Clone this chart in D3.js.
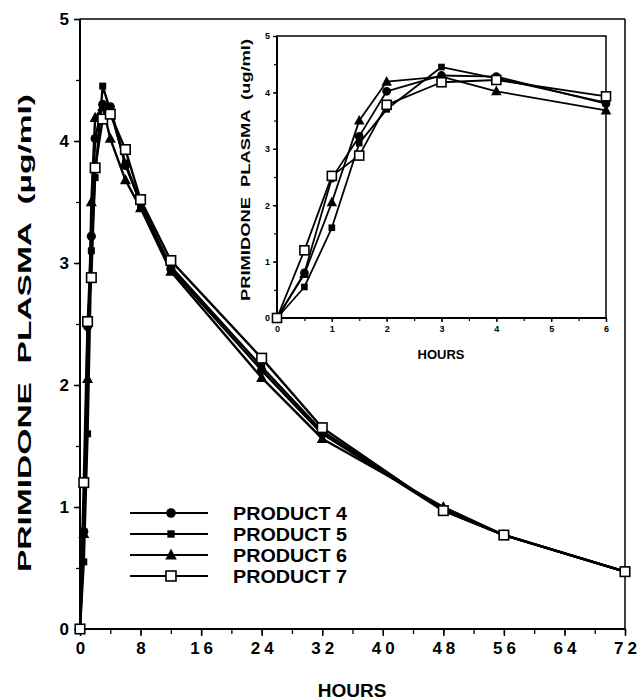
<!DOCTYPE html>
<html>
<head>
<meta charset="utf-8">
<script src="https://cdn.jsdelivr.net/npm/d3@7"></script>
<style>
  html, body { margin: 0; padding: 0; background: #fff; }
  svg { display: block; }
  text { font-family: "Liberation Sans", Arial, Helvetica, sans-serif; font-weight: bold; fill: #000; }
</style>
</head>
<body>
<svg id="chart" width="643" height="700"></svg>
<script>
// ---------- DATA ----------
const times = [0, 0.5, 1, 1.5, 2, 3, 4, 6, 8, 12, 24, 32, 48, 56, 72];
const product4 = [0, 0.80, 2.48, 3.22, 4.02, 4.30, 4.28, 3.80, 3.50, 2.95, 2.12, 1.60, 0.97, 0.77, 0.47];
const product5 = [0, 0.55, 1.60, 3.10, 3.70, 4.45, 4.25, 3.82, 3.48, 2.97, 2.15, 1.62, 0.98, 0.77, 0.47];
const product6 = [0, 0.78, 2.05, 3.50, 4.19, 4.28, 4.02, 3.68, 3.45, 2.93, 2.06, 1.56, 1.00, 0.77, 0.47];
const product7 = [0, 1.20, 2.52, 2.88, 3.78, 4.18, 4.22, 3.93, 3.52, 3.02, 2.22, 1.65, 0.97, 0.77, 0.47];
const seriesNames = ["PRODUCT 4", "PRODUCT 5", "PRODUCT 6", "PRODUCT 7"];
const seriesMarkers = ["circle", "filledSquare", "triangle", "openSquare"];
const mainXTicks = [0, 8, 16, 24, 32, 40, 48, 56, 64, 72];
const mainYTicks = [0, 1, 2, 3, 4, 5];
const insetXTicks = [0, 1, 2, 3, 4, 5, 6];
const insetYTicks = [0, 1, 2, 3, 4, 5];
const insetMaxTime = 6;
const yLabelMain = "PRIMIDONE  PLASMA  (\u00b5g/ml)";
const yLabelInset = "PRIMIDONE  PLASMA  (ug/ml)";
const xLabel = "HOURS";

const allSeries = [product4, product5, product6, product7].map((vals, i) => ({
  name: seriesNames[i],
  marker: seriesMarkers[i],
  points: times.map((t, j) => ({ t, v: vals[j] }))
}));

const svg = d3.select("#chart");

function drawMarker(g, type, x, y, s) {
  if (type === "circle") {
    g.append("circle").attr("cx", x).attr("cy", y).attr("r", 4.6 * s).attr("fill", "#000");
  } else if (type === "filledSquare") {
    const w = 7 * s;
    g.append("rect").attr("x", x - w / 2).attr("y", y - w / 2).attr("width", w).attr("height", w).attr("fill", "#000");
  } else if (type === "triangle") {
    const h = 10 * s;
    g.append("path")
      .attr("d", `M${x},${y - h * 0.6}L${x + h * 0.55},${y + h * 0.42}L${x - h * 0.55},${y + h * 0.42}Z`)
      .attr("fill", "#000");
  } else {
    const w = 9.5 * s;
    g.append("rect").attr("x", x - w / 2).attr("y", y - w / 2).attr("width", w).attr("height", w)
      .attr("fill", "#fff").attr("stroke", "#000").attr("stroke-width", 1.6);
  }
}

function drawPanel(opts) {
  const { x, y, data, lineWidth, markerScale, g } = opts;
  const line = d3.line().x(d => x(d.t)).y(d => y(d.v));
  data.forEach(s => {
    g.append("path").datum(s.points).attr("d", line)
      .attr("fill", "none").attr("stroke", "#000").attr("stroke-width", lineWidth)
      .attr("stroke-linejoin", "round");
  });
  data.forEach(s => {
    s.points.forEach(p => drawMarker(g, s.marker, x(p.t), y(p.v), markerScale));
  });
}

// ---------- MAIN PANEL ----------
const mx = d3.scaleLinear().domain([0, 72]).range([80, 625]);
const my = d3.scaleLinear().domain([0, 5]).range([629, 19]);

const main = svg.append("g");
// frame top & right
main.append("line").attr("x1", mx(0)).attr("x2", mx(72)).attr("y1", my(5)).attr("y2", my(5))
  .attr("stroke", "#000").attr("stroke-width", 1.5);
main.append("line").attr("x1", mx(72)).attr("x2", mx(72)).attr("y1", my(5)).attr("y2", my(0))
  .attr("stroke", "#000").attr("stroke-width", 1.5);

// minor ticks
const mxAxisMinor = d3.axisBottom(mx).tickValues(d3.range(0, 73, 4)).tickSize(5).tickFormat("");
main.append("g").attr("transform", `translate(0,${my(0)})`).call(mxAxisMinor)
  .call(g => g.select(".domain").remove())
  .call(g => g.selectAll("line").attr("stroke-width", 1.3));
const myAxisMinor = d3.axisLeft(my).tickValues(d3.range(0, 5.01, 0.5)).tickSize(4).tickFormat("");
main.append("g").attr("transform", `translate(${mx(0)},0)`).call(myAxisMinor)
  .call(g => g.select(".domain").remove())
  .call(g => g.selectAll("line").attr("stroke-width", 1.3));

const mxAxis = d3.axisBottom(mx).tickValues(mainXTicks).tickSize(7).tickPadding(6).tickFormat(d3.format("d"));
main.append("g").attr("transform", `translate(0,${my(0)})`).call(mxAxis)
  .call(g => g.select(".domain").attr("stroke-width", 2).attr("d", `M${mx(0)},0H${mx(72)}`))
  .call(g => g.selectAll("line").attr("stroke-width", 1.5))
  .call(g => g.selectAll("text").attr("font-size", 17).attr("font-family", "Liberation Sans, Arial, sans-serif")
    .attr("font-weight", "bold").attr("letter-spacing", "4px").attr("dx", "2px"));

const myAxis = d3.axisLeft(my).tickValues(mainYTicks).tickSize(6).tickPadding(5).tickFormat(d3.format("d"));
main.append("g").attr("transform", `translate(${mx(0)},0)`).call(myAxis)
  .call(g => g.select(".domain").attr("stroke-width", 2).attr("d", `M0,${my(0)}V${my(5)}`))
  .call(g => g.selectAll("line").attr("stroke-width", 1.5))
  .call(g => g.selectAll("text").attr("font-size", 17).attr("font-family", "Liberation Sans, Arial, sans-serif")
    .attr("font-weight", "bold"));

drawPanel({ x: mx, y: my, data: allSeries, lineWidth: 2.4, markerScale: 1, g: main.append("g") });

// axis labels
svg.append("text").attr("x", 352).attr("y", 697).attr("text-anchor", "middle")
  .attr("font-size", 19).text(xLabel);
svg.append("text").attr("transform", "translate(31,333) rotate(-90)").attr("text-anchor", "middle")
  .attr("font-size", 19).attr("textLength", 478).attr("lengthAdjust", "spacingAndGlyphs")
  .style("white-space", "pre").text(yLabelMain);

// legend
const legend = svg.append("g");
const legendRows = [513, 534, 555, 576];
allSeries.forEach((s, i) => {
  const yy = legendRows[i];
  legend.append("line").attr("x1", 130).attr("x2", 208).attr("y1", yy).attr("y2", yy)
    .attr("stroke", "#000").attr("stroke-width", 1.8);
  drawMarker(legend, s.marker, 171, yy, 1.05);
  legend.append("text").attr("x", 233).attr("y", yy + 6.5).attr("font-size", 17.5)
    .attr("textLength", 114).attr("lengthAdjust", "spacingAndGlyphs").text(s.name);
});

// ---------- INSET ----------
const ix = d3.scaleLinear().domain([0, 6]).range([277, 606]);
const iy = d3.scaleLinear().domain([0, 5]).range([318, 36]);
const inset = svg.append("g");
inset.append("rect").attr("x", ix(0)).attr("y", iy(5)).attr("width", ix(6) - ix(0)).attr("height", iy(0) - iy(5))
  .attr("fill", "#fff").attr("stroke", "#000").attr("stroke-width", 1.5);

const ixAxisMinor = d3.axisBottom(ix).tickValues(d3.range(0, 6.01, 0.5)).tickSize(3).tickFormat("");
inset.append("g").attr("transform", `translate(0,${iy(0)})`).call(ixAxisMinor)
  .call(g => g.select(".domain").remove()).call(g => g.selectAll("line").attr("stroke-width", 1.2));
const iyAxisMinor = d3.axisLeft(iy).tickValues(d3.range(0, 5.01, 0.5)).tickSize(3).tickFormat("");
inset.append("g").attr("transform", `translate(${ix(0)},0)`).call(iyAxisMinor)
  .call(g => g.select(".domain").remove()).call(g => g.selectAll("line").attr("stroke-width", 1.2));

const ixAxis = d3.axisBottom(ix).tickValues(insetXTicks).tickSize(4).tickPadding(4).tickFormat(d3.format("d"));
inset.append("g").attr("transform", `translate(0,${iy(0)})`).call(ixAxis)
  .call(g => g.select(".domain").attr("stroke-width", 2).attr("d", `M${ix(0)},0H${ix(6)}`))
  .call(g => g.selectAll("line").attr("stroke-width", 1.3))
  .call(g => g.selectAll("text").attr("font-size", 9).attr("font-family", "Liberation Sans, Arial, sans-serif")
    .attr("font-weight", "bold"));
const iyAxis = d3.axisLeft(iy).tickValues(insetYTicks).tickSize(4).tickPadding(3).tickFormat(d3.format("d"));
inset.append("g").attr("transform", `translate(${ix(0)},0)`).call(iyAxis)
  .call(g => g.select(".domain").attr("stroke-width", 2).attr("d", `M0,${iy(0)}V${iy(5)}`))
  .call(g => g.selectAll("line").attr("stroke-width", 1.3))
  .call(g => g.selectAll("text").attr("font-size", 9).attr("font-family", "Liberation Sans, Arial, sans-serif")
    .attr("font-weight", "bold"));

const insetData = allSeries.map(s => ({ ...s, points: s.points.filter(p => p.t <= insetMaxTime) }));
drawPanel({ x: ix, y: iy, data: insetData, lineWidth: 1.8, markerScale: 0.95, g: inset.append("g") });

svg.append("text").attr("x", 441).attr("y", 359).attr("text-anchor", "middle")
  .attr("font-size", 13).text(xLabel);
svg.append("text").attr("transform", "translate(250,170) rotate(-90)").attr("text-anchor", "middle")
  .attr("font-size", 13).attr("textLength", 262).attr("lengthAdjust", "spacingAndGlyphs")
  .style("white-space", "pre").text(yLabelInset);
</script>
</body>
</html>
